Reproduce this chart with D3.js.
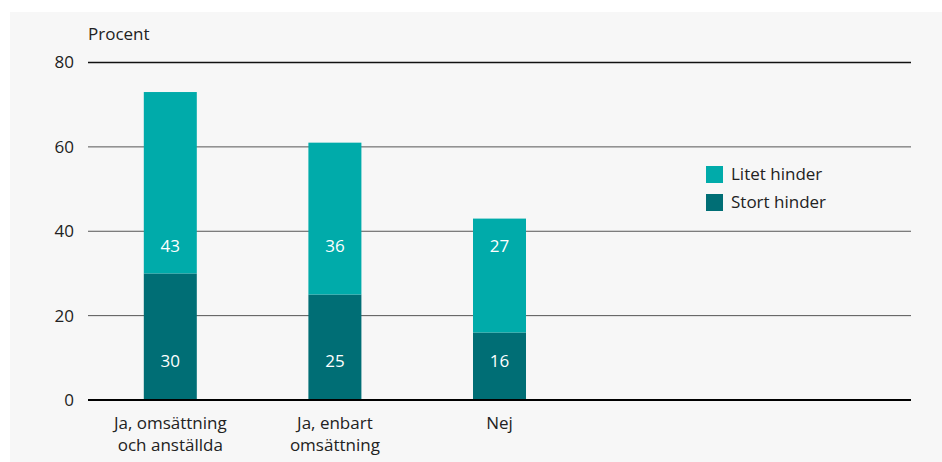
<!DOCTYPE html>
<html>
<head>
<meta charset="utf-8">
<script src="https://cdn.jsdelivr.net/npm/d3@7"></script>
<style>
  html, body { margin: 0; padding: 0; background: #ffffff; }
  svg { display: block; }
  text { font-family: "Open Sans", "Noto Sans", sans-serif; }
</style>
</head>
<body>
<svg id="chart" width="942" height="462"></svg>
<script>
// Andel företag (procent) som ser hindret, per svarsgrupp
const categories = [["Ja, omsättning", "och anställda"], ["Ja, enbart", "omsättning"], ["Nej"]];
const stortHinder = [30, 25, 16];
const litetHinder = [43, 36, 27];
const seriesNames = ["Litet hinder", "Stort hinder"];
const yTicks = [0, 20, 40, 60, 80];

const colors = { "Litet hinder": "#00abaa", "Stort hinder": "#006e75" };

const W = 942, H = 462;
const margin = { left: 88, right: 31, top: 62.5, bottom: 62 };
const svg = d3.select("#chart");

// panel background
svg.append("rect").attr("x", 10).attr("y", 12).attr("width", W - 10).attr("height", H - 12)
  .attr("fill", "#f7f7f7");

const x = d3.scaleBand()
  .domain(d3.range(5))
  .range([margin.left, W - margin.right])
  .paddingInner(0.678).paddingOuter(0.339);

const y = d3.scaleLinear().domain([0, 80]).range([H - margin.bottom, margin.top]);

// grid lines
const grid = svg.append("g");
grid.selectAll("line").data(yTicks.filter(d => d > 0)).join("line")
  .attr("x1", margin.left).attr("x2", W - margin.right)
  .attr("y1", d => y(d)).attr("y2", d => y(d))
  .attr("stroke", d => d === 80 ? "#111" : "#555")
  .attr("stroke-width", d => d === 80 ? 1.3 : 1);

// y axis labels
const yAxis = d3.axisLeft(y).tickValues(yTicks).tickSize(0).tickPadding(14);
const yg = svg.append("g").attr("transform", `translate(${margin.left},0)`).call(yAxis);
yg.select(".domain").remove();
yg.selectAll("text").attr("font-size", 17).attr("fill", "#222")
  .attr("font-family", "'Open Sans', sans-serif");

svg.append("text").attr("x", margin.left).attr("y", 40)
  .attr("font-size", 17).attr("fill", "#222").text("Procent");

// stacked bars
const rows = categories.map((c, i) => ({ i, "Stort hinder": stortHinder[i], "Litet hinder": litetHinder[i] }));
const stack = d3.stack().keys(["Stort hinder", "Litet hinder"])(rows);

svg.append("g").selectAll("g").data(stack).join("g")
  .attr("fill", s => colors[s.key])
  .selectAll("rect").data(s => s).join("rect")
  .attr("x", d => x(d.data.i))
  .attr("width", x.bandwidth())
  .attr("y", d => y(d[1]))
  .attr("height", d => y(d[0]) - y(d[1]));

// value labels at fixed heights within each bar
const labelLevel = { "Stort hinder": 9.3, "Litet hinder": 36.6 };
svg.append("g").selectAll("g").data(stack).join("g")
  .selectAll("text").data(s => s.map(d => ({ key: s.key, d }))).join("text")
  .attr("x", o => x(o.d.data.i) + x.bandwidth() / 2)
  .attr("y", o => y(labelLevel[o.key]))
  .attr("dy", "0.35em")
  .attr("text-anchor", "middle")
  .attr("font-size", 17).attr("fill", "#ffffff")
  .text(o => o.d[1] - o.d[0]);

// baseline
svg.append("line").attr("x1", margin.left).attr("x2", W - margin.right)
  .attr("y1", y(0)).attr("y2", y(0)).attr("stroke", "#000").attr("stroke-width", 2);

// category labels
const xl = svg.append("g");
categories.forEach((lines, i) => {
  const t = xl.append("text")
    .attr("x", x(i) + x.bandwidth() / 2)
    .attr("y", 429)
    .attr("text-anchor", "middle")
    .attr("font-size", 17).attr("fill", "#222");
  lines.forEach((ln, k) => t.append("tspan")
    .attr("x", x(i) + x.bandwidth() / 2).attr("dy", k === 0 ? 0 : 22).text(ln));
});

// legend
const legend = svg.append("g").attr("transform", "translate(706,166)");
seriesNames.forEach((n, k) => {
  const g = legend.append("g").attr("transform", `translate(0,${k * 28})`);
  g.append("rect").attr("width", 17).attr("height", 17).attr("fill", colors[n]);
  g.append("text").attr("x", 25).attr("y", 8.5).attr("dy", "0.35em")
    .attr("font-size", 17).attr("fill", "#222").text(n);
});
</script>
</body>
</html>
